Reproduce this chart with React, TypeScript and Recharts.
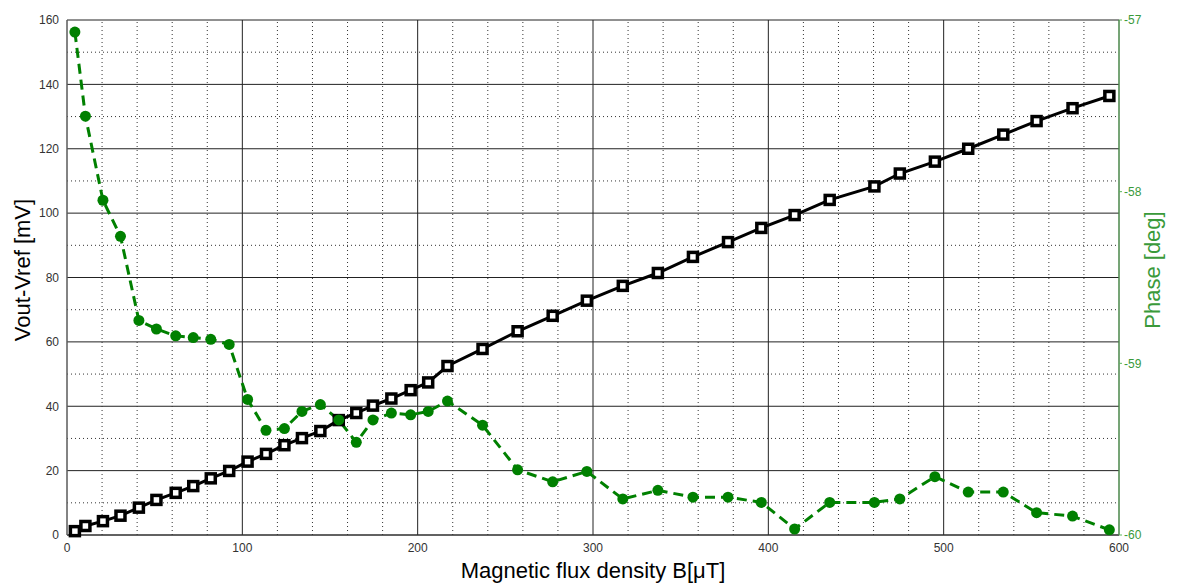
import React from "react";
import {
  ComposedChart, Line, XAxis, YAxis, CartesianGrid, ReferenceLine, Label,
} from "recharts";

// magnetic flux density [uT]
const fluxB = [
  4.5, 10.5, 20.5, 30.5, 41, 51, 62, 72, 82, 92.5,
  103, 113.5, 124, 134, 144.5, 155, 165, 174.5, 185, 196,
  206, 217, 237, 257, 277, 296.5, 317, 337, 357, 377,
  396, 415, 435, 460.5, 475, 495, 514, 534, 553, 573.5, 594.5,
];
// Vout - Vref [mV]
const voutMv = [
  1.2, 2.8, 4.3, 6.0, 8.5, 10.9, 13.1, 15.2, 17.6, 19.9,
  22.8, 25.2, 27.9, 30.1, 32.3, 35.7, 37.9, 40.2, 42.4, 45.0,
  47.4, 52.5, 57.8, 63.3, 68.1, 72.8, 77.4, 81.4, 86.4, 91.0,
  95.4, 99.4, 104.1, 108.3, 112.3, 116.0, 120.0, 124.4, 128.6, 132.6, 136.4,
];
// phase [deg]
const phaseDeg = [
  -57.07, -57.56, -58.05, -58.26, -58.75, -58.8, -58.84, -58.85, -58.86, -58.89,
  -59.21, -59.39, -59.38, -59.28, -59.24, -59.33, -59.46, -59.33, -59.29, -59.3,
  -59.28, -59.22, -59.36, -59.62, -59.69, -59.63, -59.79, -59.74, -59.78, -59.78,
  -59.81, -59.965, -59.81, -59.81, -59.79, -59.66, -59.75, -59.75, -59.87, -59.89, -59.97,
];

const xTicks = [0, 100, 200, 300, 400, 500, 600];
const xMinor = [20, 40, 60, 80, 120, 140, 160, 180, 220, 240, 260, 280, 320, 340, 360, 380, 420, 440, 460, 480, 520, 540, 560, 580];
const mvTicks = [0, 20, 40, 60, 80, 100, 120, 140, 160];
const mvMinor = [10, 30, 50, 70, 90, 110, 130, 150];
const phaseTicks = [-60, -59, -58, -57];

const data = fluxB.map((b, i) => ({ b, v: voutMv[i], phase: phaseDeg[i] }));

const FONT = "'Liberation Sans', Arial, sans-serif";
const GREEN = "#008000";
const AXIS_GREEN = "#5cb85c";
const TICK_GREEN = "#3a9a3a";

const SquareDot = (p: any) => (
  <rect key={`sq-${p.index}`} x={p.cx - 4.5} y={p.cy - 4.5} width={9} height={9}
    fill="#fff" stroke="#000" strokeWidth={3.5} />
);

const CircleDot = (p: any) => (
  <circle key={`ci-${p.index}`} cx={p.cx} cy={p.cy} r={5.5} fill={GREEN} stroke="none" />
);

export default function App() {
  return (
    <div style={{ width: 1169, height: 576, fontFamily: FONT }}>
      <ComposedChart
        width={1169}
        height={576}
        data={data}
        margin={{ top: 12, right: 0, bottom: 0, left: 0 }}
      >
        <CartesianGrid yAxisId="left" stroke="#222" strokeWidth={1} />
        {xMinor.map((x) => (
          <ReferenceLine key={`vx-${x}`} x={x} yAxisId="left" stroke="#333" strokeDasharray="1 3" />
        ))}
        {mvMinor.map((y) => (
          <ReferenceLine key={`hy-${y}`} y={y} yAxisId="left" stroke="#333" strokeDasharray="1 3" />
        ))}
        <XAxis
          dataKey="b"
          type="number"
          domain={[0, 600]}
          ticks={xTicks}
          height={49}
          tickLine={false}
          stroke="#333"
          tick={{ fontSize: 12, fill: "#333", fontFamily: FONT }}
        >
          <Label
            content={() => (
              <text x={585} y={570} textAnchor="middle" fontSize={22} fill="#000" fontFamily={FONT}>
                Magnetic flux density B[μT]
              </text>
            )}
          />
        </XAxis>
        <YAxis
          yAxisId="left"
          domain={[0, 160]}
          ticks={mvTicks}
          width={59}
          tickLine={false}
          stroke="#777"
          tick={{ fontSize: 12, fill: "#333", fontFamily: FONT }}
        >
          <Label
            content={() => (
              <text x={22} y={262} transform="rotate(-90 22 262)" textAnchor="middle" fontSize={22} fill="#000" fontFamily={FONT}>
                Vout-Vref [mV]
              </text>
            )}
          />
        </YAxis>
        <YAxis
          yAxisId="right"
          orientation="right"
          domain={[-60, -57]}
          ticks={phaseTicks}
          width={58}
          tickSize={3}
          tickMargin={2}
          stroke={AXIS_GREEN}
          tick={{ fontSize: 12, fill: TICK_GREEN, fontFamily: FONT }}
        >
          <Label
            content={() => (
              <text x={1152} y={262} transform="rotate(-90 1152 262)" textAnchor="middle" fontSize={22} fill={TICK_GREEN} fontFamily={FONT}>
                Phase [deg]
              </text>
            )}
          />
        </YAxis>
        <Line
          yAxisId="left"
          dataKey="v"
          type="linear"
          stroke="#000"
          strokeWidth={3}
          dot={SquareDot}
          activeDot={false}
          isAnimationActive={false}
        />
        <Line
          yAxisId="right"
          dataKey="phase"
          type="linear"
          stroke={GREEN}
          strokeWidth={3}
          strokeDasharray="10 6"
          dot={CircleDot}
          activeDot={false}
          isAnimationActive={false}
        />
      </ComposedChart>
    </div>
  );
}
